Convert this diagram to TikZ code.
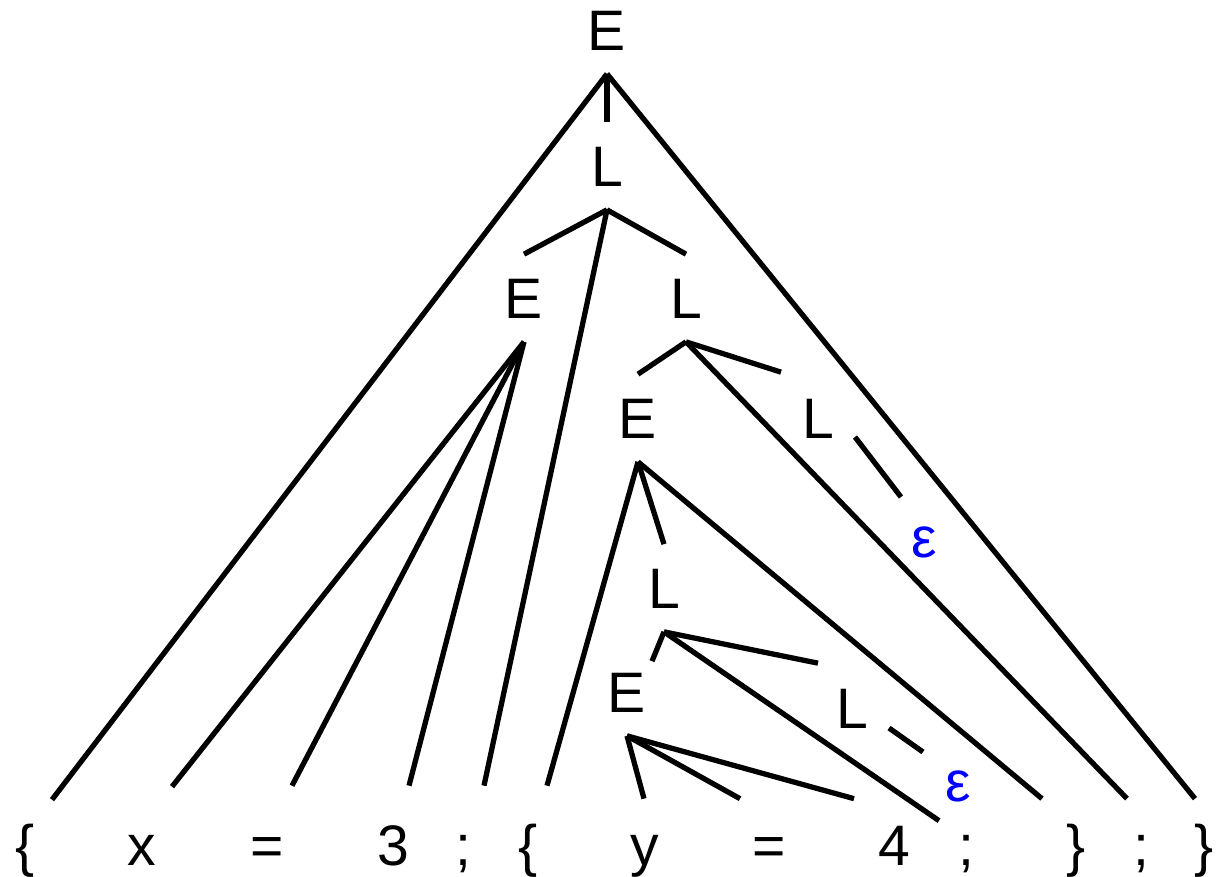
\documentclass[tikz,border=0pt]{standalone}
\usepackage{fontspec}
\setmainfont{Liberation Sans}
\usetikzlibrary{calc}
\definecolor{epsblue}{RGB}{0,0,255}

\begin{document}
\begin{tikzpicture}[x=0.02cm, y=-0.02cm,
    sym/.style={font=\fontsize{32.5}{39}\selectfont, text height=0.82cm, text depth=0pt,
      inner xsep=2pt, inner ysep=0.46cm},
    leaf/.style={font=\fontsize{32.5}{39}\selectfont, anchor=base, text height=0.82cm,
      text depth=0.2cm, inner xsep=2pt, inner ysep=0.5cm},
    eps/.style={font=\fontsize{32.5}{39}\selectfont, text=epsblue, anchor=base, inner sep=0pt},
    edge/.style={line width=3pt}]

      \useasboundingbox (0,0) rectangle (1217,876);

      % Nonterminals
      \node[sym] (E0) at (607,30) {E};
      \node[sym] (L0) at (607,166) {L};
      \node[sym] (E1) at (524,298) {E};
      \node[sym] (L1) at (686,298) {L};
      \node[sym] (E2) at (638,418) {E};
      \node[sym] (L2) at (818,418) {L};
      \node[sym] (L3) at (664,588) {L};
      \node[sym] (E3) at (627,692) {E};
      \node[sym] (L4) at (852,708) {L};

      % Empty productions
      \node[eps] (eps1) at (924,557) {ε};
      \node[eps] (eps2) at (958,801) {ε};

      % Terminals (bottom row)
      \node[leaf] (lb1) at (25,865) {\{};
      \node[leaf] (lx) at (142,865) {x};
      \node[leaf] (leq1) at (267,865) {=};
      \node[leaf] (l3) at (393,865) {3};
      \node[leaf] (ls1) at (463,865) {;};
      \node[leaf] (lb2) at (528,865) {\{};
      \node[leaf] (ly) at (645,865) {y};
      \node[leaf] (leq2) at (769,865) {=};
      \node[leaf] (l4) at (894,865) {4};
      \node[leaf] (ls2) at (966,865) {;};
      \node[leaf] (rb1) at (1076,865) {\}};
      \node[leaf] (ls3) at (1141,865) {;};
      \node[leaf] (rb2) at (1204,865) {\}};

      % E -> { L }
      \draw[edge] (E0.south) -- (L0.north);
      \draw[edge] (E0.south) -- ($(lb1.north)+(27,1)$);
      \draw[edge] (E0.south) -- ($(rb2.north)+(-9,0)$);

      % L -> E ; L
      \draw[edge] (L0.south) -- (E1.north);
      \draw[edge] (L0.south) -- ($(ls1.north)+(21,-13)$);
      \draw[edge] (L0.south) -- (L1.north);

      % E -> x = 3
      \draw[edge] (E1.south) -- ($(lx.north)+(30,-12)$);
      \draw[edge] (E1.south) -- ($(leq1.north)+(25,-13)$);
      \draw[edge] (E1.south) -- ($(l3.north)+(16,-13)$);

      % L -> E ; L
      \draw[edge] (L1.south) -- (E2.north);
      \draw[edge] (L1.south) -- ($(ls3.north)+(-14,0)$);
      \draw[edge] (L1.south) -- ($(L2.north)+(-37,-2)$);

      % L -> epsilon
      \draw[edge] ($(L2)+(37,19)$) -- ($(eps1.base)+(-23,-60)$);

      % E -> { L }
      \draw[edge] (E2.south) -- ($(lb2.north)+(19,-13)$);
      \draw[edge] (E2.south) -- (L3.north);
      \draw[edge] (E2.south) -- ($(rb1.north)+(-34,0)$);

      % L -> E ; L
      \draw[edge] (L3.south) -- ($(E3.north)+(25,13)$);
      \draw[edge] (L3.south) -- ($(ls2.north)+(-27,22)$);
      \draw[edge] (L3.south) -- ($(L4.north)+(-34,-1)$);

      % L -> epsilon
      \draw[edge] ($(L4)+(37,20)$) -- ($(eps2.base)+(-35,-49)$);

      % E -> y = 4
      \draw[edge] (E3.south) -- ($(ly.north)+(-1,0)$);
      \draw[edge] (E3.south) -- ($(leq2.north)+(-29,0)$);
      \draw[edge] (E3.south) -- ($(l4.north)+(-40,0)$);

    \end{tikzpicture}
\end{document}
